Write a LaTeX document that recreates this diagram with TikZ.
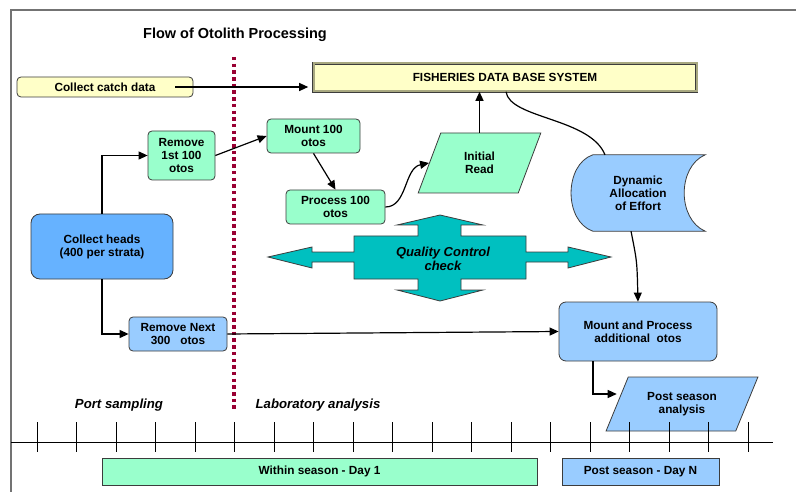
\documentclass[tikz,border=0pt]{standalone}
\usepackage{fontspec}
\setmainfont{Liberation Sans}
\usetikzlibrary{arrows.meta,shapes.geometric,backgrounds}

\definecolor{mint}{RGB}{153,255,204}
\definecolor{paleblue}{RGB}{153,204,255}
\definecolor{headblue}{RGB}{102,178,255}
\definecolor{paleyellow}{RGB}{255,255,200}
\definecolor{qcteal}{RGB}{0,192,192}
\definecolor{divider}{RGB}{153,0,51}
\definecolor{dbband}{RGB}{168,168,128}
\definecolor{edge}{RGB}{60,60,60}

\begin{document}
\begin{tikzpicture}[
  x=1pt,
  y=1pt,
  >={Triangle[length=9pt,width=8pt]},
  font=\fontsize{11.8}{13}\selectfont\bfseries,
  line/.style={draw=black,line width=1.2pt},
  arrow/.style={line,->},
  box/.style={draw=edge,line width=0.8pt,rounded corners=4pt,align=center,inner sep=2pt},
  greenbox/.style={box,fill=mint},
  bluebox/.style={box,fill=paleblue},
  para/.style={draw=edge,line width=0.8pt,trapezium,trapezium stretches=true,
               align=center,inner sep=1pt},
  bar/.style={draw=edge,line width=0.8pt,minimum height=27pt,align=center},
  tag/.style={font=\fontsize{13.2}{15}\selectfont\bfseries\itshape}
]
\useasboundingbox (0,0) rectangle (796,-492);

% =====================================================================
% Frame, title and divider
% =====================================================================
\draw[black!55,line width=1.5pt] (796,-10) -- (11,-10) -- (11,-492);
\node[font=\fontsize{14.5}{17}\selectfont\bfseries] (title) at (235,-35)
  {Flow of Otolith Processing};
\draw[divider,line width=4pt,dash pattern=on 3.5pt off 3.2pt] (234,-57) -- (234,-410);

% =====================================================================
% Boxes
% =====================================================================
\node[box,fill=paleyellow,minimum width=176pt,minimum height=20pt] (catch) at (105,-87)
  {Collect catch data};
\node[draw=edge,line width=0.6pt,double=dbband,double distance=2pt,fill=paleyellow,
      minimum width=383pt,minimum height=28pt] (db) at (505,-77.5)
  {FISHERIES DATA BASE SYSTEM};

\node[greenbox,minimum width=67pt,minimum height=49pt] (rm1) at (181.5,-155.5)
  {Remove\\1st 100\\otos};
\node[greenbox,minimum width=93pt,minimum height=34pt] (mount) at (313.5,-136)
  {Mount 100\\otos};
\node[greenbox,minimum width=99pt,minimum height=34pt] (proc) at (335.5,-207)
  {Process 100\\otos};
\node[para,fill=mint,trapezium left angle=68,trapezium right angle=112,
      minimum width=123pt,minimum height=60pt] (read) at (479.5,-163)
  {Initial\\Read};

\node[box,fill=headblue,rounded corners=9pt,minimum width=142pt,minimum height=65pt]
  (heads) at (102,-246.5) {Collect heads\\(400 per strata)};
\node[bluebox,minimum width=98pt,minimum height=34pt] (rmn) at (178,-334)
  {Remove Next\\300~~ otos};

% stored-data shape drawn behind its text
\node[align=center,minimum width=134pt,minimum height=76pt] (dyn) at (638,-193)
  {Dynamic\\Allocation\\of Effort};
\begin{scope}[on background layer]
  \draw[draw=edge,line width=0.8pt,fill=paleblue]
    ([xshift=22pt]dyn.north west) -- (dyn.north east)
    .. controls +(-28,-12) and +(-28,12) .. (dyn.south east)
    -- ([xshift=22pt]dyn.south west)
    .. controls +(-29,10) and +(-29,-10) .. ([xshift=22pt]dyn.north west) -- cycle;
\end{scope}

\node[bluebox,rounded corners=7pt,minimum width=158pt,minimum height=59pt] (mp)
  at (638,-331.5) {Mount and Process\\additional~ otos};
\node[para,fill=paleblue,trapezium left angle=60,trapezium right angle=120,
      minimum width=152pt,minimum height=54pt] (psa) at (682,-404)
  {Post season\\analysis};

% --- quality control four-way arrow ---
\draw[draw=edge,line width=0.8pt,fill=qcteal]
  (268,-257) -- (312,-247) -- (312,-252) -- (354,-252) -- (354,-236) -- (418,-236)
  -- (418,-225) -- (397,-225) -- (440,-215) -- (483,-225) -- (461,-225) -- (461,-236)
  -- (526,-236) -- (526,-252) -- (568,-252) -- (568,-247) -- (611,-257) -- (568,-268)
  -- (568,-262) -- (526,-262) -- (526,-279) -- (461,-279) -- (461,-290) -- (483,-290)
  -- (440,-301) -- (397,-290) -- (418,-290) -- (418,-279) -- (354,-279) -- (354,-262)
  -- (312,-262) -- (312,-268) -- cycle;
\node[font=\fontsize{13}{14}\selectfont\bfseries\itshape,align=center] (qc)
  at (443,-259) {Quality Control\\check};

% =====================================================================
% Connectors
% =====================================================================
\draw[arrow,shorten >=5pt] ([xshift=-18pt]catch.east) -- (catch.east -| db.west);
\draw[arrow] (heads.north) |- (rm1.west);
\draw[arrow] (heads.south) |- (rmn.west);
\draw[arrow] (rm1.east) -- (mount.west);
\draw[arrow] (mount.south) -- (proc.north);
\draw[arrow] (proc.east) .. controls +(22,0) and +(-25,-5) .. (read.left side);
\draw[arrow] (read.north) -- (read.north |- db.south);
\draw[line] ([xshift=1pt]db.south) .. controls +(4,-27) and +(-15,37) .. ([xshift=-33pt]dyn.north);
\draw[arrow] ([xshift=-7pt]dyn.south) .. controls +(6,-30) .. (mp.north);
\draw[arrow] (rmn.east) -- (mp.west);
\draw[arrow] ([xshift=-45pt]mp.south) |- ([yshift=10pt]psa.left side);

% =====================================================================
% Time line
% =====================================================================
\node[tag] (port) at (119,-405) {Port sampling};
\node[tag] (lab) at (318,-405) {Laboratory analysis};
\draw[line width=0.9pt] (11,-442) -- (773,-442);
\foreach \i in {0,...,18}
  \draw[line width=0.7pt] ({37+39.5*\i},-422) -- ({37+39.5*\i},-452);

\node[bar,fill=mint,minimum width=435pt] (within) at (319.5,-471.5) {Within season - Day 1};
\node[bar,fill=paleblue,minimum width=157pt] (postn) at (640.5,-471.5) {Post season - Day N};

\end{tikzpicture}
\end{document}
